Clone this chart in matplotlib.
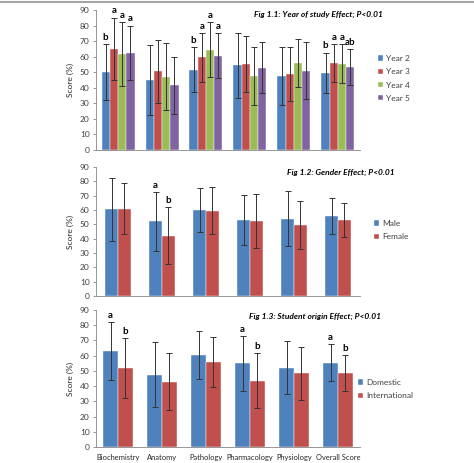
import numpy as np
import matplotlib.pyplot as plt
from matplotlib.lines import Line2D

plt.rcParams['font.family'] = ['Lato', 'DejaVu Sans']

# Categories
subjects = ['Biochemistry', 'Anatomy', 'Pathology', 'Pharmacology',
            'Physiology', 'Overall Score']

# Fig 1.1: year of study
year_names = ['Year 2', 'Year 3', 'Year 4', 'Year 5']
year_means = [
    [50.0, 44.7, 51.5, 54.5, 47.5, 49.5],
    [65.0, 50.5, 59.5, 55.0, 49.0, 56.0],
    [61.5, 47.0, 64.5, 47.5, 56.0, 55.5],
    [62.5, 41.5, 60.5, 53.0, 51.0, 53.5],
]
year_sd = [
    [18.0, 22.5, 14.5, 21.0, 18.5, 13.0],
    [20.0, 20.5, 15.5, 18.0, 17.5, 12.0],
    [20.5, 21.5, 17.5, 18.5, 15.5, 12.5],
    [17.5, 18.5, 14.5, 16.5, 18.5, 11.5],
]
year_letters = [
    ['b', '', 'b', '', '', 'b'],
    ['a', '', 'a', '', '', 'a'],
    ['a', '', 'a', '', '', 'a'],
    ['a', '', 'a', '', '', 'ab'],
]

# Fig 1.2: gender
gender_names = ['Male', 'Female']
gender_means = [
    [60.5, 52.0, 60.0, 53.0, 54.0, 56.0],
    [61.0, 42.0, 59.5, 52.5, 49.5, 53.0],
]
gender_sd = [
    [22.0, 20.5, 15.5, 17.5, 19.0, 12.5],
    [17.5, 20.0, 16.5, 19.0, 16.5, 12.0],
]
gender_letters = [
    ['', 'a', '', '', '', ''],
    ['', 'b', '', '', '', ''],
]

# Fig 1.3: student origin
origin_names = ['Domestic', 'International']
origin_means = [
    [63.0, 47.5, 60.5, 55.0, 52.0, 55.5],
    [52.0, 43.0, 56.0, 43.5, 48.5, 48.5],
]
origin_sd = [
    [19.0, 21.5, 15.5, 18.0, 17.5, 12.0],
    [19.5, 19.0, 16.5, 18.0, 17.5, 12.0],
]
origin_letters = [
    ['a', '', '', 'a', '', 'a'],
    ['b', '', '', 'b', '', 'b'],
]

colors = ['#4F81BD', '#C0504D', '#9BBB59', '#8064A2']

W, H = 474, 463
fig = plt.figure(figsize=(W / 100, H / 100), dpi=100)

# thin gray line at the top of the frame
fig.add_artist(Line2D([0, 1], [1 - 1.5 / H, 1 - 1.5 / H], color='#A6A6A6',
                      lw=1.5, transform=fig.transFigure))


def make_axes(top, bottom):
    left, right = 96, 360
    return fig.add_axes([left / W, 1 - bottom / H, (right - left) / W,
                         (bottom - top) / H])


def draw_panel(ax, names, means, sds, letters, group_width, title, title_xy,
               legend_xy, show_xlabels):
    n = len(names)
    bw = group_width / n
    x = np.arange(len(subjects))
    for i in range(n):
        pos = x - group_width / 2 + bw * (i + 0.5)
        ax.bar(pos, means[i], bw, color=colors[i], label=names[i],
               edgecolor='white', linewidth=0.3, zorder=2)
        ax.errorbar(pos, means[i], yerr=sds[i], fmt='none', ecolor='#333333',
                    elinewidth=0.7, capsize=2, capthick=0.7, zorder=3)
        for p, m, s, lab in zip(pos, means[i], sds[i], letters[i]):
            if lab:
                ax.text(p, m + s + 1.5, lab, ha='center', va='bottom',
                        fontsize=7, fontweight='bold', color='black')
    ax.set_xlim(-0.5, len(subjects) - 0.5)
    ax.set_ylim(0, 90)
    ax.set_yticks(np.arange(0, 91, 10))
    ax.tick_params(axis='y', labelsize=6, length=2.5, width=0.6,
                   colors='#868686', labelcolor='#404040', pad=2)
    ax.tick_params(axis='x', length=0, labelsize=5.4, labelcolor='#262626',
                   pad=5)
    ax.set_xticks(x)
    if show_xlabels:
        ax.set_xticklabels(subjects)
    else:
        ax.set_xticklabels([])
    for s in ['top', 'right']:
        ax.spines[s].set_visible(False)
    for s in ['left', 'bottom']:
        ax.spines[s].set_color('#868686')
        ax.spines[s].set_linewidth(0.6)
    ax.set_ylabel('Score (%)', fontsize=6, color='#262626', labelpad=4)
    fig.text(title_xy[0] / W, 1 - title_xy[1] / H, title, ha='right',
             va='center', fontsize=6, fontweight='bold', style='italic')
    ax.legend(loc='upper left', bbox_to_anchor=(legend_xy[0] / W,
                                                1 - legend_xy[1] / H),
              bbox_transform=fig.transFigure, frameon=False, fontsize=6,
              handlelength=0.6, handleheight=0.6, handletextpad=0.4,
              labelspacing=0.75, borderpad=0, borderaxespad=0,
              labelcolor='#404040')


ax1 = make_axes(10, 150)
draw_panel(ax1, year_names, year_means, year_sd, year_letters, 0.75,
           'Fig 1.1: Year of study Effect; P<0.01', (383, 14), (378, 55),
           False)

ax2 = make_axes(167, 296)
draw_panel(ax2, gender_names, gender_means, gender_sd, gender_letters, 0.58,
           'Fig 1.2: Gender Effect; P<0.01', (395, 172), (374, 220), False)

ax3 = make_axes(310, 447)
draw_panel(ax3, origin_names, origin_means, origin_sd, origin_letters, 0.66,
           'Fig 1.3: Student origin Effect; P<0.01', (381, 316), (358, 379),
           True)

fig.savefig('out.png', dpi=100)
